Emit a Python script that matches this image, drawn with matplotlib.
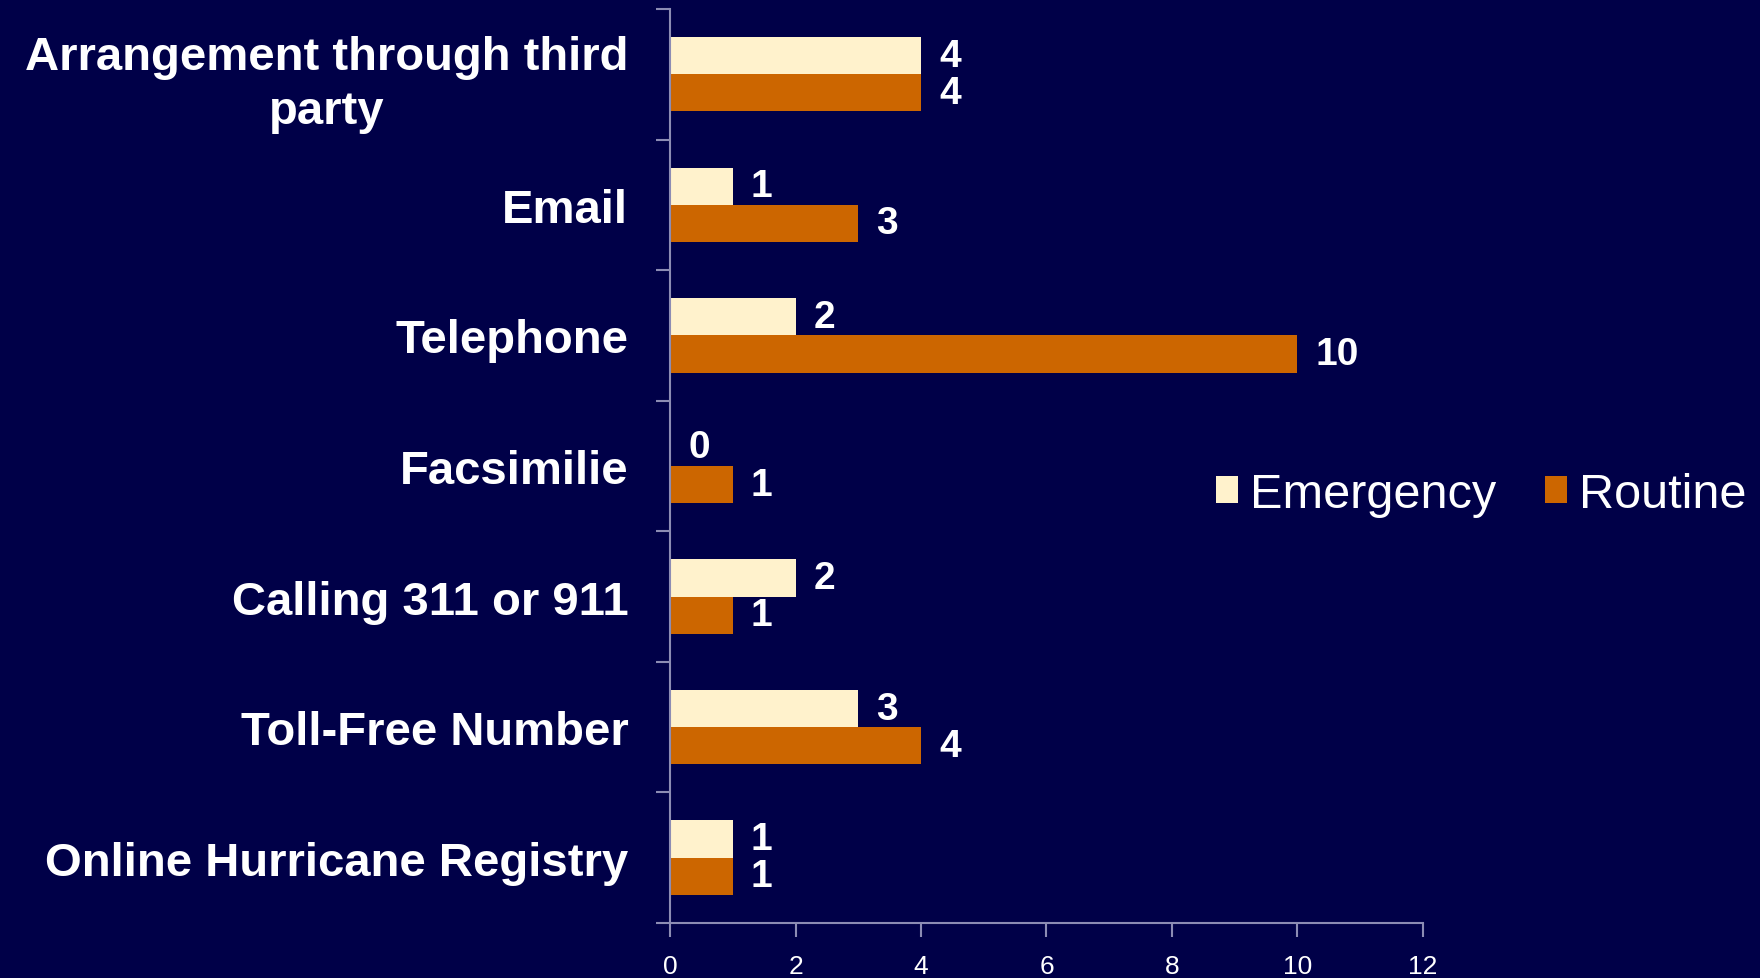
import numpy as np
import matplotlib
matplotlib.use("Agg")
from matplotlib import pyplot as plt

categories = ["Arrangement through third\nparty", "Email", "Telephone", "Facsimilie",
              "Calling 311 or 911", "Toll-Free Number", "Online Hurricane Registry"]
emergency = [4, 1, 2, 0, 2, 3, 1]
routine = [4, 3, 10, 1, 1, 4, 1]
x_ticks = [0, 2, 4, 6, 8, 10, 12]

bg = "#000048"
cream = "#FFF2CC"
orange = "#CC6600"
axis_col = "#8C8CB4"

plt.rcParams['font.family'] = ['Liberation Sans', 'DejaVu Sans']

fig = plt.figure(figsize=(17.6, 9.79), dpi=100, facecolor=bg)
ax = fig.add_axes([0.3807, 0.0562, 0.4278, 0.9336], facecolor=bg)

n = len(categories)
pos = np.arange(n)[::-1]
h = 0.285
b1 = ax.barh(pos + h / 2, emergency, height=h, color=cream, label="Emergency")
b2 = ax.barh(pos - h / 2, routine, height=h, color=orange, label="Routine")

for bars, vals in ((b1, emergency), (b2, routine)):
    for bar, v in zip(bars, vals):
        ax.annotate(str(v), (bar.get_width(), bar.get_y() + bar.get_height() / 2),
                    xytext=(13, 0), textcoords="offset points", va="center", ha="left",
                    color="white", fontsize=28, fontweight="bold")

ax.set_xlim(0, 12)
ax.set_ylim(-0.5, n - 0.5)
ax.set_xticks(x_ticks)
ax.set_xticklabels([str(t) for t in x_ticks], color="white", fontsize=19)
ax.set_yticks(pos)
labels = ax.set_yticklabels(categories, color="white", fontsize=34, fontweight="bold")
labels[0].set_multialignment("center")
labels[0].set_linespacing(1.3)
ax.set_yticks(np.arange(n + 1) - 0.5, minor=True)
ax.tick_params(axis="y", which="major", length=0, pad=30)
ax.tick_params(axis="y", which="minor", length=10, color=axis_col, width=1.5)
ax.tick_params(axis="x", length=10, color=axis_col, width=1.5, pad=12)

for s in ("top", "right"):
    ax.spines[s].set_visible(False)
for s in ("left", "bottom"):
    ax.spines[s].set_color(axis_col)
    ax.spines[s].set_linewidth(1.5)

leg = fig.legend(loc="center left", bbox_to_anchor=(0.691, 0.494), ncol=2, frameon=False,
                 fontsize=35, labelcolor="white", handlelength=0.45, handleheight=0.45,
                 handletextpad=0.25, columnspacing=1.0, borderpad=0.0, borderaxespad=0.0)

fig.savefig("out.png", dpi=100, facecolor=bg)
